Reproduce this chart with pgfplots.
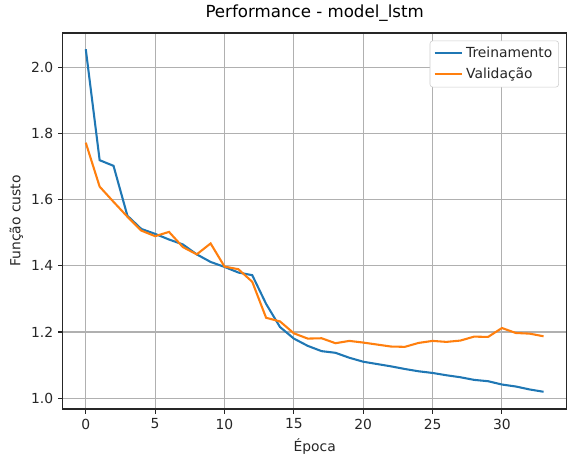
\documentclass[border=0pt]{standalone}
\usepackage{pgfplots}
\pgfplotsset{compat=1.18}
\usepackage{fontspec}
\setmainfont{DejaVu Sans}
\definecolor{mplblue}{HTML}{1F77B4}
\definecolor{mplorange}{HTML}{FF7F0E}
\definecolor{mplgrid}{HTML}{B0B0B0}
\begin{document}
\begin{tikzpicture}
\begin{axis}[
  scale only axis,
  width=363pt, height=271pt,
  xmin=-1.65, xmax=34.65,
  ymin=0.967, ymax=2.105,
  xtick={0,5,...,30},
  ytick={1.0,1.2,1.4,1.6,1.8,2.0},
  yticklabel style={/pgf/number format/.cd,fixed,fixed zerofill,precision=1},
  /pgf/number format/assume math mode=true,
  tick align=outside,
  major tick length=3.5pt,
  xtick pos=bottom, ytick pos=left,
  tick style={black!85, line width=0.8pt},
  grid=major,
  major grid style={mplgrid, line width=0.8pt},
  axis line style={black!85, line width=0.8pt},
  ticklabel style={font=\fontsize{10}{12}\selectfont, text=black!85},
  title={Performance - model\_lstm},
  title style={font=\fontsize{12}{14}\selectfont, yshift=-1pt},
  xlabel={Época}, ylabel={Função custo},
  label style={font=\fontsize{10}{12}\selectfont, text=black!85},
  ylabel style={yshift=-1pt},
  legend pos=north east,
  legend cell align=left,
  legend style={draw=black!20, rounded corners=2pt, font=\fontsize{10}{12}\selectfont,
    at={(0.985,0.98)}, anchor=north east, inner sep=2.5pt, row sep=2pt, text=black!85},
  legend image code/.code={\draw[#1, line width=1.5pt] (0cm,0cm) -- (20pt,0cm);},
]
\addplot[mplblue, line width=1.5pt] coordinates {
(0,2.056) (1,1.720) (2,1.703) (3,1.552) (4,1.512) (5,1.497) (6,1.480) (7,1.465)
(8,1.435) (9,1.412) (10,1.397) (11,1.380) (12,1.372) (13,1.285) (14,1.215)
(15,1.180) (16,1.158) (17,1.142) (18,1.137) (19,1.122) (20,1.110) (21,1.103)
(22,1.096) (23,1.088) (24,1.081) (25,1.076) (26,1.069) (27,1.063) (28,1.055)
(29,1.051) (30,1.041) (31,1.035) (32,1.026) (33,1.019)
};
\addlegendentry{Treinamento}
\addplot[mplorange, line width=1.5pt] coordinates {
(0,1.773) (1,1.640) (2,1.594) (3,1.549) (4,1.507) (5,1.490) (6,1.503) (7,1.457)
(8,1.435) (9,1.468) (10,1.398) (11,1.390) (12,1.352) (13,1.243) (14,1.232)
(15,1.196) (16,1.180) (17,1.181) (18,1.166) (19,1.173) (20,1.168) (21,1.162)
(22,1.156) (23,1.155) (24,1.167) (25,1.173) (26,1.170) (27,1.174) (28,1.186)
(29,1.185) (30,1.212) (31,1.197) (32,1.195) (33,1.187)
};
\addlegendentry{Validação}
\end{axis}
\path ([xshift=-3.5pt]current bounding box.west);
\end{tikzpicture}
\end{document}
